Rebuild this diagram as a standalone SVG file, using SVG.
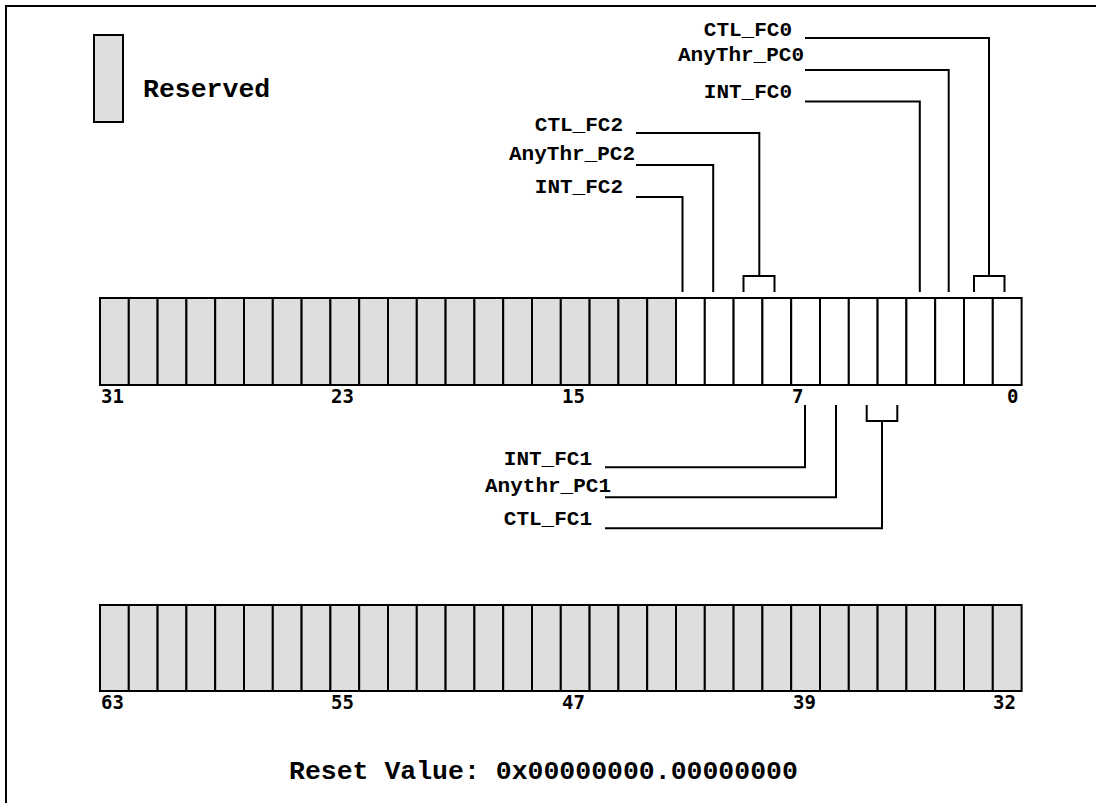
<svg xmlns="http://www.w3.org/2000/svg" width="1096" height="803" viewBox="0 0 1096 803">
<style>
.frame{stroke:#000;stroke-width:2;fill:none}
.res{fill:#dedede;stroke:#000;stroke-width:2}
.bit{fill:#fff;stroke:#000;stroke-width:2}
.lbl{font-family:"Liberation Mono","Courier New",monospace;font-weight:bold;font-size:21px;fill:#000}
.num{font-family:"DejaVu Sans Mono",monospace;font-weight:bold;font-size:19px;fill:#000}
.big{font-family:"Liberation Mono","Courier New",monospace;font-weight:bold;fill:#000}
.conn path{stroke:#000;stroke-width:2;fill:none}
</style>
<rect width="1096" height="803" fill="#fff"/>
<path class="frame" d="M6,803 V6 H1096"/>
<g id="legend">
<rect class="res" x="94" y="35" width="29" height="87"/>
<text class="big" x="143" y="97" font-size="26.5">Reserved</text>
</g>
<g id="register-low">
<rect class="res" x="100" y="298" width="28.8" height="87"/>
<rect class="res" x="128.8" y="298" width="28.8" height="87"/>
<rect class="res" x="157.6" y="298" width="28.8" height="87"/>
<rect class="res" x="186.4" y="298" width="28.8" height="87"/>
<rect class="res" x="215.2" y="298" width="28.8" height="87"/>
<rect class="res" x="244" y="298" width="28.8" height="87"/>
<rect class="res" x="272.8" y="298" width="28.8" height="87"/>
<rect class="res" x="301.6" y="298" width="28.8" height="87"/>
<rect class="res" x="330.4" y="298" width="28.8" height="87"/>
<rect class="res" x="359.2" y="298" width="28.8" height="87"/>
<rect class="res" x="388" y="298" width="28.8" height="87"/>
<rect class="res" x="416.8" y="298" width="28.8" height="87"/>
<rect class="res" x="445.6" y="298" width="28.8" height="87"/>
<rect class="res" x="474.4" y="298" width="28.8" height="87"/>
<rect class="res" x="503.2" y="298" width="28.8" height="87"/>
<rect class="res" x="532" y="298" width="28.8" height="87"/>
<rect class="res" x="560.8" y="298" width="28.8" height="87"/>
<rect class="res" x="589.6" y="298" width="28.8" height="87"/>
<rect class="res" x="618.4" y="298" width="28.8" height="87"/>
<rect class="res" x="647.2" y="298" width="28.8" height="87"/>
<rect class="bit" x="676" y="298" width="28.8" height="87"/>
<rect class="bit" x="704.8" y="298" width="28.8" height="87"/>
<rect class="bit" x="733.6" y="298" width="28.8" height="87"/>
<rect class="bit" x="762.4" y="298" width="28.8" height="87"/>
<rect class="bit" x="791.2" y="298" width="28.8" height="87"/>
<rect class="bit" x="820" y="298" width="28.8" height="87"/>
<rect class="bit" x="848.8" y="298" width="28.8" height="87"/>
<rect class="bit" x="877.6" y="298" width="28.8" height="87"/>
<rect class="bit" x="906.4" y="298" width="28.8" height="87"/>
<rect class="bit" x="935.2" y="298" width="28.8" height="87"/>
<rect class="bit" x="964" y="298" width="28.8" height="87"/>
<rect class="bit" x="992.8" y="298" width="28.8" height="87"/>
<text class="num" x="101" y="403">31</text>
<text class="num" x="331" y="403">23</text>
<text class="num" x="562" y="403">15</text>
<text class="num" x="792" y="403">7</text>
<text class="num" x="1007" y="403">0</text>
</g>
<g id="register-high">
<rect class="res" x="100" y="605" width="28.8" height="86"/>
<rect class="res" x="128.8" y="605" width="28.8" height="86"/>
<rect class="res" x="157.6" y="605" width="28.8" height="86"/>
<rect class="res" x="186.4" y="605" width="28.8" height="86"/>
<rect class="res" x="215.2" y="605" width="28.8" height="86"/>
<rect class="res" x="244" y="605" width="28.8" height="86"/>
<rect class="res" x="272.8" y="605" width="28.8" height="86"/>
<rect class="res" x="301.6" y="605" width="28.8" height="86"/>
<rect class="res" x="330.4" y="605" width="28.8" height="86"/>
<rect class="res" x="359.2" y="605" width="28.8" height="86"/>
<rect class="res" x="388" y="605" width="28.8" height="86"/>
<rect class="res" x="416.8" y="605" width="28.8" height="86"/>
<rect class="res" x="445.6" y="605" width="28.8" height="86"/>
<rect class="res" x="474.4" y="605" width="28.8" height="86"/>
<rect class="res" x="503.2" y="605" width="28.8" height="86"/>
<rect class="res" x="532" y="605" width="28.8" height="86"/>
<rect class="res" x="560.8" y="605" width="28.8" height="86"/>
<rect class="res" x="589.6" y="605" width="28.8" height="86"/>
<rect class="res" x="618.4" y="605" width="28.8" height="86"/>
<rect class="res" x="647.2" y="605" width="28.8" height="86"/>
<rect class="res" x="676" y="605" width="28.8" height="86"/>
<rect class="res" x="704.8" y="605" width="28.8" height="86"/>
<rect class="res" x="733.6" y="605" width="28.8" height="86"/>
<rect class="res" x="762.4" y="605" width="28.8" height="86"/>
<rect class="res" x="791.2" y="605" width="28.8" height="86"/>
<rect class="res" x="820" y="605" width="28.8" height="86"/>
<rect class="res" x="848.8" y="605" width="28.8" height="86"/>
<rect class="res" x="877.6" y="605" width="28.8" height="86"/>
<rect class="res" x="906.4" y="605" width="28.8" height="86"/>
<rect class="res" x="935.2" y="605" width="28.8" height="86"/>
<rect class="res" x="964" y="605" width="28.8" height="86"/>
<rect class="res" x="992.8" y="605" width="28.8" height="86"/>
<text class="num" x="101" y="709">63</text>
<text class="num" x="331" y="709">55</text>
<text class="num" x="562" y="709">47</text>
<text class="num" x="793" y="709">39</text>
<text class="num" x="993" y="709">32</text>
</g>
<g id="field-labels" text-anchor="end">
<g id="ctl-fc0"><text class="lbl" x="792" y="35.5">CTL_FC0</text></g>
<g id="anythr-pc0"><text class="lbl" x="804" y="60.6">AnyThr_PC0</text></g>
<g id="int-fc0"><text class="lbl" x="792" y="97.8">INT_FC0</text></g>
<g id="ctl-fc2"><text class="lbl" x="623" y="131">CTL_FC2</text></g>
<g id="anythr-pc2"><text class="lbl" x="635" y="159.5">AnyThr_PC2</text></g>
<g id="int-fc2"><text class="lbl" x="623" y="193">INT_FC2</text></g>
<g id="int-fc1"><text class="lbl" x="592" y="465">INT_FC1</text></g>
<g id="anythr-pc1"><text class="lbl" x="611" y="491.7">Anythr_PC1</text></g>
<g id="ctl-fc1"><text class="lbl" x="592" y="525">CTL_FC1</text></g>
</g>
<g id="connectors" class="conn">
<path d="M805,38 H989 V276"/>
<path d="M974,292 V276 H1004.5 V292"/>
<path d="M805,70 H948.7 V292"/>
<path d="M805,101.6 H919.8 V292"/>
<path d="M636,133 H759.3 V276"/>
<path d="M743.5,292 V276 H774.5 V292"/>
<path d="M636,165 H713.2 V292"/>
<path d="M636,197 H682.5 V292"/>
<path d="M805,405 V467.3 H605"/>
<path d="M836,405 V497.3 H605"/>
<path d="M866.7,405 V421 H897.3 V405"/>
<path d="M882,421 V528.3 H605"/>
</g>
<g id="reset-value">
<text class="big" x="289" y="779" font-size="26.5">Reset Value: 0x00000000.00000000</text>
</g>
</svg>
